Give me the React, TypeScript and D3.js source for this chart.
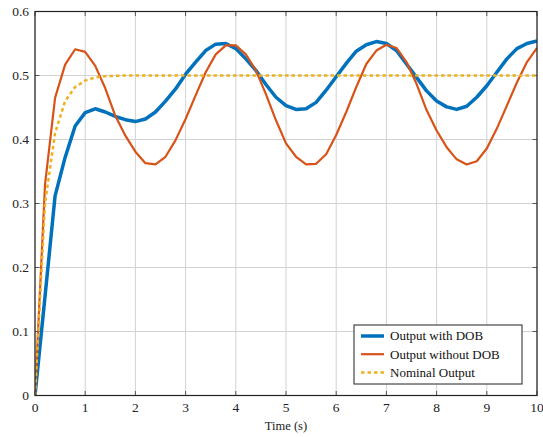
import React, { useEffect, useRef } from "react";
import * as d3 from "d3";

const times: number[] = Array.from({ length: 51 }, (_, i) => +(i * 0.2).toFixed(1));

const withDOB: number[] = [
  0, 0.155, 0.312, 0.372, 0.421, 0.442, 0.448, 0.443, 0.436, 0.431, 0.428,
  0.432, 0.443, 0.46, 0.479, 0.502, 0.521, 0.539, 0.549, 0.55, 0.542,
  0.526, 0.508, 0.486, 0.466, 0.453, 0.447, 0.448, 0.458, 0.477, 0.498,
  0.519, 0.538, 0.548, 0.553, 0.55, 0.539, 0.518, 0.497, 0.476, 0.46,
  0.451, 0.447, 0.452, 0.466, 0.484, 0.505, 0.526, 0.542, 0.55, 0.554,
];

const withoutDOB: number[] = [
  0, 0.33, 0.465, 0.517, 0.541, 0.537, 0.515, 0.48, 0.437, 0.406, 0.381,
  0.363, 0.361, 0.373, 0.399, 0.432, 0.469, 0.505, 0.533, 0.547, 0.547,
  0.533, 0.508, 0.471, 0.43, 0.394, 0.373, 0.361, 0.362, 0.377, 0.407,
  0.443, 0.482, 0.518, 0.539, 0.548, 0.543, 0.521, 0.487, 0.446, 0.414,
  0.388, 0.369, 0.361, 0.366, 0.386, 0.417, 0.453, 0.489, 0.521, 0.543,
];

const nominal: number[] = [
  0, 0.3, 0.41, 0.46, 0.482, 0.492, 0.497, 0.499, 0.4995, 0.5, 0.5,
  0.5, 0.5, 0.5, 0.5, 0.5, 0.5, 0.5, 0.5, 0.5, 0.5,
  0.5, 0.5, 0.5, 0.5, 0.5, 0.5, 0.5, 0.5, 0.5, 0.5,
  0.5, 0.5, 0.5, 0.5, 0.5, 0.5, 0.5, 0.5, 0.5, 0.5,
  0.5, 0.5, 0.5, 0.5, 0.5, 0.5, 0.5, 0.5, 0.5, 0.5,
];

const xTicks: number[] = [0, 1, 2, 3, 4, 5, 6, 7, 8, 9, 10];
const yTicks: number[] = [0, 0.1, 0.2, 0.3, 0.4, 0.5, 0.6];
const seriesNames: string[] = ["Output with DOB", "Output without DOB", "Nominal Output"];
const xLabel = "Time (s)";

const W = 543, H = 437;
const FONT = "'Liberation Serif', 'DejaVu Serif', 'Times New Roman', Times, serif";

export default function App() {
  const ref = useRef<SVGSVGElement>(null);
  useEffect(() => {
    const svg = d3.select(ref.current);
    svg.selectAll("*").remove();
    const x = d3.scaleLinear().domain([0, 10]).range([35, 537]);
    const y = d3.scaleLinear().domain([0, 0.6]).range([395.5, 11.5]);
    const [x0, x1] = x.range();
    const [y0, y1] = y.range();

    svg.append("rect").attr("x", 0).attr("y", 0).attr("width", W).attr("height", H).attr("fill", "#fff");

    const g = svg.append("g");
    g.selectAll(".gx").data(xTicks).enter().append("line")
      .attr("x1", d => x(d)).attr("x2", d => x(d)).attr("y1", y0).attr("y2", y1)
      .attr("stroke", "#d3d3d3").attr("stroke-width", 1);
    g.selectAll(".gy").data(yTicks).enter().append("line")
      .attr("x1", x0).attr("x2", x1).attr("y1", d => y(d)).attr("y2", d => y(d))
      .attr("stroke", "#d3d3d3").attr("stroke-width", 1);
    const tl = 4.5;
    xTicks.forEach(t => {
      g.append("line").attr("x1", x(t)).attr("x2", x(t)).attr("y1", y0).attr("y2", y0 - tl).attr("stroke", "#555");
      g.append("line").attr("x1", x(t)).attr("x2", x(t)).attr("y1", y1).attr("y2", y1 + tl).attr("stroke", "#555");
    });
    yTicks.forEach(t => {
      g.append("line").attr("x1", x0).attr("x2", x0 + tl).attr("y1", y(t)).attr("y2", y(t)).attr("stroke", "#555");
      g.append("line").attr("x1", x1).attr("x2", x1 - tl).attr("y1", y(t)).attr("y2", y(t)).attr("stroke", "#555");
    });

    const clip = svg.append("defs").append("clipPath").attr("id", "clip");
    clip.append("rect").attr("x", x0).attr("y", y1).attr("width", x1 - x0).attr("height", y0 - y1);

    const line = d3.line<number>().x((_, i) => x(times[i])).y(d => y(d));
    const lines = svg.append("g").attr("clip-path", "url(#clip)");
    lines.append("path").attr("d", line(withDOB)).attr("fill", "none")
      .attr("stroke", "#0072BD").attr("stroke-width", 3.5).attr("stroke-linejoin", "round");
    lines.append("path").attr("d", line(withoutDOB)).attr("fill", "none")
      .attr("stroke", "#D95319").attr("stroke-width", 2.2).attr("stroke-linejoin", "round");
    lines.append("path").attr("d", line(nominal)).attr("fill", "none")
      .attr("stroke", "#EDB120").attr("stroke-width", 2.5).attr("stroke-dasharray", "3.5,3");

    svg.append("rect").attr("x", x0).attr("y", y1).attr("width", x1 - x0).attr("height", y0 - y1)
      .attr("fill", "none").attr("stroke", "#222").attr("stroke-width", 1.2);

    const txt = svg.append("g").attr("font-family", FONT).style("font-family", FONT);
    txt.selectAll(".xl").data(xTicks).enter().append("text")
      .attr("x", d => x(d)).attr("y", 412).attr("text-anchor", "middle")
      .attr("font-size", 13.5).attr("fill", "#222").text(d => String(d));
    txt.selectAll(".yl").data(yTicks).enter().append("text")
      .attr("x", 29).attr("y", d => y(d) + 4.5).attr("text-anchor", "end")
      .attr("font-size", 13.5).attr("fill", "#222").text(d => String(d));
    txt.append("text").attr("x", (x0 + x1) / 2).attr("y", 429.5).attr("text-anchor", "middle")
      .attr("font-size", 12.5).attr("fill", "#222").text(xLabel);

    const lg = txt.append("g");
    lg.append("rect").attr("x", 354).attr("y", 325).attr("width", 168).attr("height", 59)
      .attr("fill", "#fff").attr("stroke", "#222").attr("stroke-width", 1);
    const styles = [
      { c: "#0072BD", w: 3.5, dash: null },
      { c: "#D95319", w: 2.2, dash: null },
      { c: "#EDB120", w: 2.5, dash: "3.5,3" },
    ];
    seriesNames.forEach((n, i) => {
      const cy = 336 + i * 18.2;
      const l = lg.append("line").attr("x1", 361).attr("x2", 384).attr("y1", cy).attr("y2", cy)
        .attr("stroke", styles[i].c).attr("stroke-width", styles[i].w);
      if (styles[i].dash) l.attr("stroke-dasharray", styles[i].dash);
      lg.append("text").attr("x", 390).attr("y", cy + 4.3)
        .attr("font-size", 13).attr("fill", "#111").text(n);
    });
  }, []);
  return (
    <div style={{ position: "fixed", left: 0, top: 0, fontFamily: FONT }}>
      <svg ref={ref} width={W} height={H} style={{ display: "block", fontFamily: FONT }} />
    </div>
  );
}
